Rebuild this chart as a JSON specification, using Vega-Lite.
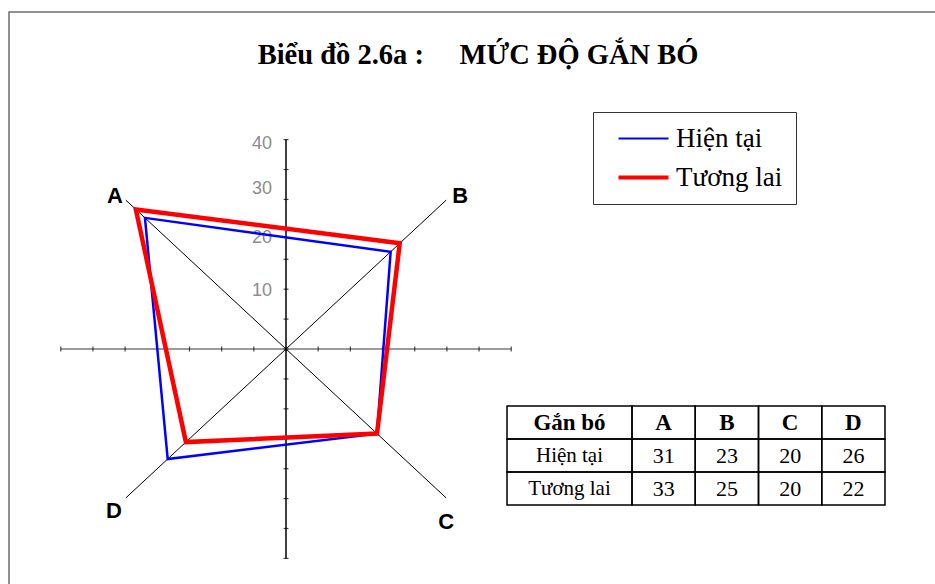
{
  "$schema": "https://vega.github.io/schema/vega-lite/v6.json",
  "width": 960,
  "height": 600,
  "autosize": {"type": "none"},
  "padding": {"left": 9, "top": 12, "right": 0, "bottom": 0},
  "background": "white",
  "config": {
    "view": {"stroke": "#6e6e6e", "strokeWidth": 1.5},
    "text": {"font": "Liberation Serif", "color": "#000"}
  },
  "title": {
    "text": "Biểu đồ 2.6a :\u00a0\u00a0\u00a0\u00a0\u00a0MỨC ĐỘ GẮN BÓ",
    "font": "Liberation Serif",
    "fontSize": 28.5,
    "fontWeight": "bold",
    "color": "#000",
    "anchor": "middle",
    "baseline": "alphabetic",
    "offset": 0,
    "dx": -11,
    "dy": 80
  },
  "datasets": {
    "scores": [
      {"series": "Hiện tại", "axis": "A", "value": 31},
      {"series": "Hiện tại", "axis": "B", "value": 23},
      {"series": "Hiện tại", "axis": "C", "value": 20},
      {"series": "Hiện tại", "axis": "D", "value": 26},
      {"series": "Tương lai", "axis": "A", "value": 33},
      {"series": "Tương lai", "axis": "B", "value": 25},
      {"series": "Tương lai", "axis": "C", "value": 20},
      {"series": "Tương lai", "axis": "D", "value": 22}
    ],
    "spokes": [
      {"axis": "A", "x": -35.2, "y": 35.2},
      {"axis": "B", "x": 35.2, "y": 35.2},
      {"axis": "C", "x": 35.2, "y": -35.2},
      {"axis": "D", "x": -35.2, "y": -35.2}
    ],
    "frame": [{"from": -49.5, "to": 49.5}],
    "ticks": [
      {"t": -49.5}, {"t": -42.43}, {"t": -35.36}, {"t": -28.29}, {"t": -21.21},
      {"t": -14.14}, {"t": -7.07}, {"t": 0}, {"t": 7.07}, {"t": 14.14},
      {"t": 21.21}, {"t": 28.29}, {"t": 35.36}, {"t": 42.43}, {"t": 49.5}
    ],
    "scaleLabels": [
      {"label": "10", "at": 13.8},
      {"label": "20", "at": 26.2},
      {"label": "30", "at": 37.9},
      {"label": "40", "at": 48.5}
    ]
  },
  "layer": [
    {
      "data": {"name": "frame"},
      "mark": {"type": "rule", "color": "#7a7a7a", "strokeWidth": 1.5},
      "encoding": {
        "x": {"field": "from", "type": "quantitative", "axis": null, "scale": {"domain": [-60.88, 150.11], "nice": false, "zero": false}},
        "x2": {"field": "to"},
        "y": {"datum": 0, "type": "quantitative", "axis": null, "scale": {"domain": [-62.17, 79.67], "nice": false, "zero": false}}
      }
    },
    {
      "data": {"name": "frame"},
      "mark": {"type": "rule", "color": "#000", "strokeWidth": 1.5},
      "encoding": {
        "x": {"datum": 0, "type": "quantitative", "axis": null, "scale": {"domain": [-60.88, 150.11], "nice": false, "zero": false}},
        "y": {"field": "from", "type": "quantitative", "axis": null, "scale": {"domain": [-62.17, 79.67], "nice": false, "zero": false}},
        "y2": {"field": "to"}
      }
    },
    {
      "data": {"name": "spokes"},
      "mark": {"type": "rule", "color": "#000", "strokeWidth": 1},
      "encoding": {
        "x": {"field": "x", "type": "quantitative", "axis": null, "scale": {"domain": [-60.88, 150.11], "nice": false, "zero": false}},
        "y": {"field": "y", "type": "quantitative", "axis": null, "scale": {"domain": [-62.17, 79.67], "nice": false, "zero": false}},
        "x2": {"datum": 0},
        "y2": {"datum": 0}
      }
    },
    {
      "data": {"name": "ticks"},
      "mark": {"type": "tick", "orient": "vertical", "size": 5, "thickness": 1.2, "color": "#000"},
      "encoding": {
        "x": {"field": "t", "type": "quantitative", "axis": null, "scale": {"domain": [-60.88, 150.11], "nice": false, "zero": false}},
        "y": {"datum": 0, "type": "quantitative", "axis": null, "scale": {"domain": [-62.17, 79.67], "nice": false, "zero": false}}
      }
    },
    {
      "data": {"name": "ticks"},
      "mark": {"type": "tick", "orient": "horizontal", "size": 5, "thickness": 1.2, "color": "#000"},
      "encoding": {
        "x": {"datum": 0, "type": "quantitative", "axis": null, "scale": {"domain": [-60.88, 150.11], "nice": false, "zero": false}},
        "y": {"field": "t", "type": "quantitative", "axis": null, "scale": {"domain": [-62.17, 79.67], "nice": false, "zero": false}}
      }
    },
    {
      "data": {"name": "scaleLabels"},
      "mark": {"type": "text", "align": "right", "baseline": "middle", "dx": -14, "font": "Liberation Sans", "fontSize": 18, "color": "#8c8c8c"},
      "encoding": {
        "x": {"datum": 0, "type": "quantitative", "axis": null, "scale": {"domain": [-60.88, 150.11], "nice": false, "zero": false}},
        "y": {"field": "at", "type": "quantitative", "axis": null, "scale": {"domain": [-62.17, 79.67], "nice": false, "zero": false}},
        "text": {"field": "label", "type": "nominal"}
      }
    },
    {
      "data": {"name": "spokes"},
      "transform": [{"filter": "datum.axis === 'A'"}],
      "mark": {"type": "text", "align": "center", "baseline": "middle", "dx": -11, "dy": -4, "font": "Liberation Sans", "fontWeight": "bold", "fontSize": 22},
      "encoding": {
        "x": {"field": "x", "type": "quantitative", "axis": null, "scale": {"domain": [-60.88, 150.11], "nice": false, "zero": false}},
        "y": {"field": "y", "type": "quantitative", "axis": null, "scale": {"domain": [-62.17, 79.67], "nice": false, "zero": false}},
        "text": {"field": "axis", "type": "nominal"}
      }
    },
    {
      "data": {"name": "spokes"},
      "transform": [{"filter": "datum.axis === 'B'"}],
      "mark": {"type": "text", "align": "center", "baseline": "middle", "dx": 14, "dy": -4, "font": "Liberation Sans", "fontWeight": "bold", "fontSize": 22},
      "encoding": {
        "x": {"field": "x", "type": "quantitative", "axis": null, "scale": {"domain": [-60.88, 150.11], "nice": false, "zero": false}},
        "y": {"field": "y", "type": "quantitative", "axis": null, "scale": {"domain": [-62.17, 79.67], "nice": false, "zero": false}},
        "text": {"field": "axis", "type": "nominal"}
      }
    },
    {
      "data": {"name": "spokes"},
      "transform": [{"filter": "datum.axis === 'C'"}],
      "mark": {"type": "text", "align": "center", "baseline": "middle", "dx": 0, "dy": 24, "font": "Liberation Sans", "fontWeight": "bold", "fontSize": 22},
      "encoding": {
        "x": {"field": "x", "type": "quantitative", "axis": null, "scale": {"domain": [-60.88, 150.11], "nice": false, "zero": false}},
        "y": {"field": "y", "type": "quantitative", "axis": null, "scale": {"domain": [-62.17, 79.67], "nice": false, "zero": false}},
        "text": {"field": "axis", "type": "nominal"}
      }
    },
    {
      "data": {"name": "spokes"},
      "transform": [{"filter": "datum.axis === 'D'"}],
      "mark": {"type": "text", "align": "center", "baseline": "middle", "dx": -12, "dy": 13, "font": "Liberation Sans", "fontWeight": "bold", "fontSize": 22},
      "encoding": {
        "x": {"field": "x", "type": "quantitative", "axis": null, "scale": {"domain": [-60.88, 150.11], "nice": false, "zero": false}},
        "y": {"field": "y", "type": "quantitative", "axis": null, "scale": {"domain": [-62.17, 79.67], "nice": false, "zero": false}},
        "text": {"field": "axis", "type": "nominal"}
      }
    },
    {
      "data": {"name": "scores"},
      "transform": [
        {"filter": "datum.series === 'Hiện tại'"},
        {"calculate": "datum.axis === 'A' || datum.axis === 'D' ? -datum.value : datum.value", "as": "east"},
        {"calculate": "datum.axis === 'A' || datum.axis === 'B' ? datum.value : -datum.value", "as": "north"}
      ],
      "mark": {"type": "line", "interpolate": "linear-closed", "strokeWidth": 2.5, "strokeJoin": "miter"},
      "encoding": {
        "x": {"field": "east", "type": "quantitative", "axis": null, "scale": {"domain": [-60.88, 150.11], "nice": false, "zero": false}},
        "y": {"field": "north", "type": "quantitative", "axis": null, "scale": {"domain": [-62.17, 79.67], "nice": false, "zero": false}},
        "order": {"field": "axis", "type": "ordinal"},
        "color": {
          "field": "series", "type": "nominal",
          "scale": {"domain": ["Hiện tại", "Tương lai"], "range": ["#0000ff", "#ff0000"]},
          "legend": {
            "title": null, "orient": "none", "legendX": 584, "legendY": 100,
            "symbolType": "M-2,0H2", "symbolSize": 625, "symbolOffset": 24,
            "labelOffset": 19, "labelFont": "Liberation Serif", "labelFontSize": 27, "labelColor": "#000",
            "padding": 13, "strokeColor": "#333", "rowPadding": 11,
            "encode": {"symbols": {"update": {"strokeWidth": {"signal": "datum.value === 'Tương lai' ? 4 : 2.2"}}}}
          }
        }
      }
    },
    {
      "data": {"name": "scores"},
      "transform": [
        {"filter": "datum.series === 'Tương lai'"},
        {"calculate": "datum.axis === 'A' || datum.axis === 'D' ? -datum.value : datum.value", "as": "east"},
        {"calculate": "datum.axis === 'A' || datum.axis === 'B' ? datum.value : -datum.value", "as": "north"}
      ],
      "mark": {"type": "line", "interpolate": "linear-closed", "strokeWidth": 4.5, "strokeJoin": "miter"},
      "encoding": {
        "x": {"field": "east", "type": "quantitative", "axis": null, "scale": {"domain": [-60.88, 150.11], "nice": false, "zero": false}},
        "y": {"field": "north", "type": "quantitative", "axis": null, "scale": {"domain": [-62.17, 79.67], "nice": false, "zero": false}},
        "order": {"field": "axis", "type": "ordinal"},
        "color": {
          "field": "series", "type": "nominal",
          "scale": {"domain": ["Hiện tại", "Tương lai"], "range": ["#0000ff", "#ff0000"]},
          "legend": {
            "title": null, "orient": "none", "legendX": 584, "legendY": 100,
            "symbolType": "M-2,0H2", "symbolSize": 625, "symbolOffset": 24,
            "labelOffset": 19, "labelFont": "Liberation Serif", "labelFontSize": 27, "labelColor": "#000",
            "padding": 13, "strokeColor": "#333", "rowPadding": 11,
            "encode": {"symbols": {"update": {"strokeWidth": {"signal": "datum.value === 'Tương lai' ? 4 : 2.2"}}}}
          }
        }
      }
    },
    {
      "data": {"name": "scores"},
      "transform": [{"aggregate": [{"op": "count", "as": "n"}], "groupby": ["series"]}],
      "mark": {"type": "rect", "filled": false, "stroke": "#000", "strokeWidth": 1.5},
      "encoding": {
        "x": {"datum": "Gắn bó", "type": "nominal", "axis": null, "scale": {"type": "band", "domain": ["Gắn bó"], "range": [498, 623], "paddingInner": 0, "paddingOuter": 0}},
        "y": {"field": "series", "type": "nominal", "axis": null, "scale": {"type": "band", "domain": ["Gắn bó", "Hiện tại", "Tương lai"], "range": [394, 493], "paddingInner": 0, "paddingOuter": 0}}
      }
    },
    {
      "data": {"name": "scores"},
      "transform": [{"aggregate": [{"op": "count", "as": "n"}], "groupby": ["series"]}],
      "mark": {"type": "text", "fontSize": 21, "baseline": "middle"},
      "encoding": {
        "x": {"datum": "Gắn bó", "type": "nominal", "axis": null, "scale": {"type": "band", "domain": ["Gắn bó"], "range": [498, 623], "paddingInner": 0, "paddingOuter": 0}},
        "y": {"field": "series", "type": "nominal", "axis": null, "scale": {"type": "band", "domain": ["Gắn bó", "Hiện tại", "Tương lai"], "range": [394, 493], "paddingInner": 0, "paddingOuter": 0}},
        "text": {"field": "series", "type": "nominal"}
      }
    },
    {
      "data": {"name": "scores"},
      "transform": [{"aggregate": [{"op": "count", "as": "n"}]}],
      "mark": {"type": "rect", "filled": false, "stroke": "#000", "strokeWidth": 1.5},
      "encoding": {
        "x": {"datum": "Gắn bó", "type": "nominal", "axis": null, "scale": {"type": "band", "domain": ["Gắn bó"], "range": [498, 623], "paddingInner": 0, "paddingOuter": 0}},
        "y": {"datum": "Gắn bó", "type": "nominal", "axis": null, "scale": {"type": "band", "domain": ["Gắn bó", "Hiện tại", "Tương lai"], "range": [394, 493], "paddingInner": 0, "paddingOuter": 0}}
      }
    },
    {
      "data": {"name": "scores"},
      "transform": [{"aggregate": [{"op": "count", "as": "n"}]}],
      "mark": {"type": "text", "text": "Gắn bó", "fontSize": 23, "fontWeight": "bold", "baseline": "middle"},
      "encoding": {
        "x": {"datum": "Gắn bó", "type": "nominal", "axis": null, "scale": {"type": "band", "domain": ["Gắn bó"], "range": [498, 623], "paddingInner": 0, "paddingOuter": 0}},
        "y": {"datum": "Gắn bó", "type": "nominal", "axis": null, "scale": {"type": "band", "domain": ["Gắn bó", "Hiện tại", "Tương lai"], "range": [394, 493], "paddingInner": 0, "paddingOuter": 0}}
      }
    },
    {
      "data": {"name": "scores"},
      "mark": {"type": "rect", "filled": false, "stroke": "#000", "strokeWidth": 1.5},
      "encoding": {
        "x": {"field": "axis", "type": "nominal", "axis": null, "scale": {"type": "band", "domain": ["A", "B", "C", "D"], "range": [623, 876], "paddingInner": 0, "paddingOuter": 0}},
        "y": {"field": "series", "type": "nominal", "axis": null, "scale": {"type": "band", "domain": ["Gắn bó", "Hiện tại", "Tương lai"], "range": [394, 493], "paddingInner": 0, "paddingOuter": 0}}
      }
    },
    {
      "data": {"name": "scores"},
      "mark": {"type": "text", "fontSize": 22, "baseline": "middle"},
      "encoding": {
        "x": {"field": "axis", "type": "nominal", "axis": null, "scale": {"type": "band", "domain": ["A", "B", "C", "D"], "range": [623, 876], "paddingInner": 0, "paddingOuter": 0}},
        "y": {"field": "series", "type": "nominal", "axis": null, "scale": {"type": "band", "domain": ["Gắn bó", "Hiện tại", "Tương lai"], "range": [394, 493], "paddingInner": 0, "paddingOuter": 0}},
        "text": {"field": "value", "type": "quantitative"}
      }
    },
    {
      "data": {"name": "scores"},
      "transform": [{"filter": "datum.series === 'Hiện tại'"}],
      "mark": {"type": "rect", "filled": false, "stroke": "#000", "strokeWidth": 1.5},
      "encoding": {
        "x": {"field": "axis", "type": "nominal", "axis": null, "scale": {"type": "band", "domain": ["A", "B", "C", "D"], "range": [623, 876], "paddingInner": 0, "paddingOuter": 0}},
        "y": {"datum": "Gắn bó", "type": "nominal", "axis": null, "scale": {"type": "band", "domain": ["Gắn bó", "Hiện tại", "Tương lai"], "range": [394, 493], "paddingInner": 0, "paddingOuter": 0}}
      }
    },
    {
      "data": {"name": "scores"},
      "transform": [{"filter": "datum.series === 'Hiện tại'"}],
      "mark": {"type": "text", "fontSize": 23, "fontWeight": "bold", "baseline": "middle"},
      "encoding": {
        "x": {"field": "axis", "type": "nominal", "axis": null, "scale": {"type": "band", "domain": ["A", "B", "C", "D"], "range": [623, 876], "paddingInner": 0, "paddingOuter": 0}},
        "y": {"datum": "Gắn bó", "type": "nominal", "axis": null, "scale": {"type": "band", "domain": ["Gắn bó", "Hiện tại", "Tương lai"], "range": [394, 493], "paddingInner": 0, "paddingOuter": 0}},
        "text": {"field": "axis", "type": "nominal"}
      }
    }
  ],
  "resolve": {"scale": {"x": "independent", "y": "independent"}}
}
